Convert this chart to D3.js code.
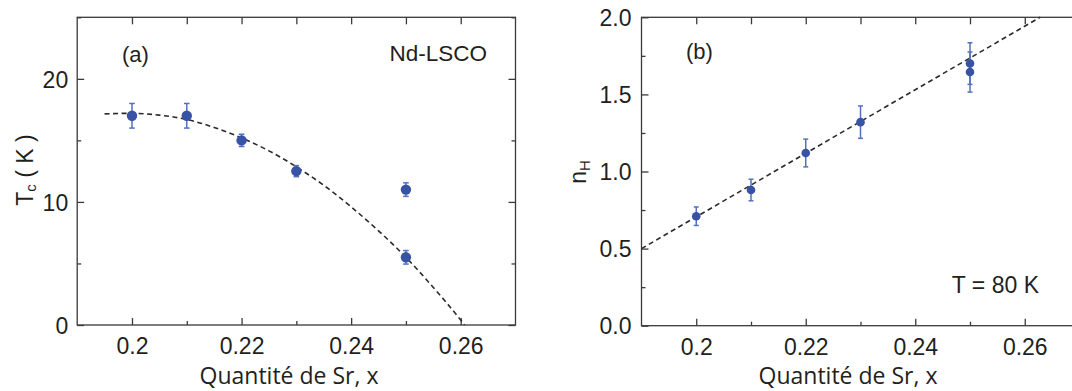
<!DOCTYPE html>
<html><head><meta charset="utf-8">
<script src="https://cdn.jsdelivr.net/npm/d3@7"></script>
<style>
body{margin:0;background:#fff;}
svg{display:block;}
text{font-family:"Liberation Sans",Arial,sans-serif;fill:#231f20;}
.title{font-family:"Open Sans","Noto Sans",sans-serif;}
</style></head><body>
<svg id="c" width="1072" height="391"></svg>
<script>
// ---- Data ----
// Panel (a): Tc vs Sr content
const xA = [0.20, 0.21, 0.22, 0.23, 0.25, 0.25];
const tcA = [17.0, 17.0, 15.0, 12.5, 11.0, 5.5];
const tcErrA = [1.0, 1.0, 0.5, 0.45, 0.55, 0.55];
// dashed guide curve (a)
const fitXA = [0.195, 0.200, 0.205, 0.210, 0.215, 0.220, 0.225, 0.230, 0.235, 0.240, 0.245, 0.250, 0.255, 0.260, 0.2607];
const fitYA = [17.15, 17.2, 17.05, 16.7, 16.05, 15.2, 14.15, 12.85, 11.35, 9.6, 7.65, 5.5, 3.05, 0.4, 0.0];
// Panel (b): nH vs Sr content
const xB = [0.20, 0.21, 0.22, 0.23, 0.25, 0.25];
const nB = [0.71, 0.88, 1.12, 1.32, 1.70, 1.645];
const nErrB = [0.06, 0.07, 0.09, 0.105, 0.135, 0.13];
// dashed linear fit (b)
const fitXB = [0.19, 0.2628];
const fitYB = [0.5, 2.0];
// Axis ticks
const xMajorTicks = [0.20, 0.22, 0.24, 0.26];
const xTickLabels = ["0.2", "0.22", "0.24", "0.26"];
const xMinorTicks = [0.21, 0.23, 0.25];
const yMajorA = [0, 10, 20];
const yMinorA = [5, 15, 25];
const yMajorB = [0, 0.5, 1.0, 1.5, 2.0];
const yMinorB = [0.25, 0.75, 1.25, 1.75];

const svg = d3.select("#c");
const axisCol = "#3a3a3a";
const ptCol = "#3852a4";
const errCol = "#5571bd";
const tickFont = 23;

function panel(o) {
  const x = d3.scaleLinear().domain([0.19, 0.27]).range(o.xr);
  const y = d3.scaleLinear().domain(o.yd).range(o.yr);
  const g = svg.append("g");
  const [x0, x1] = o.xr, [y0, y1] = o.yr;
  // frame
  g.append("rect").attr("x", x0).attr("y", y1).attr("width", x1 - x0).attr("height", y0 - y1)
    .attr("fill", "none").attr("stroke", axisCol).attr("stroke-width", 1.3);
  // bottom axis (ticks inward)
  const bx = g.append("g").attr("transform", `translate(0,${y0})`)
    .call(d3.axisBottom(x).tickValues(xMajorTicks).tickSize(-7)
      .tickFormat((d, i) => xTickLabels[i]).tickPadding(10));
  bx.select(".domain").remove();
  bx.selectAll("line").attr("stroke", axisCol).attr("stroke-width", 1.3);
  bx.selectAll("text").attr("font-size", tickFont).attr("fill", "#231f20")
    .style("font-family", '"Liberation Sans",Arial,sans-serif').attr("dy", "0.8em").attr("y", 10.5);
  const bm = g.append("g").attr("transform", `translate(0,${y0})`)
    .call(d3.axisBottom(x).tickValues(xMinorTicks).tickSize(-4).tickFormat(""));
  bm.select(".domain").remove();
  bm.selectAll("line").attr("stroke", axisCol).attr("stroke-width", 1.3);
  // top axis
  const tx = g.append("g").attr("transform", `translate(0,${y1})`)
    .call(d3.axisTop(x).tickValues(xMajorTicks.concat(xMinorTicks)).tickSize(-7).tickFormat(""));
  tx.select(".domain").remove();
  tx.selectAll("line").attr("stroke", axisCol).attr("stroke-width", 1.3);
  // left axis
  const ly = g.append("g").attr("transform", `translate(${x0},0)`)
    .call(d3.axisLeft(y).tickValues(o.yMajor).tickSize(-7).tickPadding(o.lpad).tickFormat(o.fmt));
  ly.select(".domain").remove();
  ly.selectAll("line").attr("stroke", axisCol).attr("stroke-width", 1.3);
  ly.selectAll("text").attr("font-size", tickFont).attr("fill", "#231f20")
    .style("font-family", '"Liberation Sans",Arial,sans-serif').attr("dy", "0.36em");
  const lm = g.append("g").attr("transform", `translate(${x0},0)`)
    .call(d3.axisLeft(y).tickValues(o.yMinor).tickSize(-4).tickFormat(""));
  lm.select(".domain").remove();
  lm.selectAll("line").attr("stroke", axisCol).attr("stroke-width", 1.3);
  // right axis
  const ry = g.append("g").attr("transform", `translate(${x1},0)`)
    .call(d3.axisRight(y).tickValues(o.yMajor).tickSize(-7).tickFormat(""));
  ry.select(".domain").remove();
  ry.selectAll("line").attr("stroke", axisCol).attr("stroke-width", 1.3);
  const rm = g.append("g").attr("transform", `translate(${x1},0)`)
    .call(d3.axisRight(y).tickValues(o.yMinor).tickSize(-4).tickFormat(""));
  rm.select(".domain").remove();
  rm.selectAll("line").attr("stroke", axisCol).attr("stroke-width", 1.3);

  // fit curve
  const fit = o.fitX.map((v, i) => [v, o.fitY[i]]);
  g.append("path").datum(fit)
    .attr("d", d3.line().x(d => x(d[0])).y(d => y(d[1])).curve(d3.curveMonotoneX))
    .attr("fill", "none").attr("stroke", "#2b2b2b").attr("stroke-width", 1.6)
    .attr("stroke-dasharray", "5,3.5");

  // error bars
  const pts = o.px.map((v, i) => ({x: v, y: o.py[i], e: o.pe[i]}));
  const eb = g.append("g").attr("stroke", errCol).attr("stroke-width", 1.5);
  pts.forEach(p => {
    const cx = x(p.x);
    eb.append("line").attr("x1", cx).attr("x2", cx).attr("y1", y(p.y - p.e)).attr("y2", y(p.y + p.e));
    eb.append("line").attr("x1", cx - o.cap).attr("x2", cx + o.cap).attr("y1", y(p.y - p.e)).attr("y2", y(p.y - p.e));
    eb.append("line").attr("x1", cx - o.cap).attr("x2", cx + o.cap).attr("y1", y(p.y + p.e)).attr("y2", y(p.y + p.e));
  });
  g.selectAll("circle.pt").data(pts).join("circle").attr("class", "pt")
    .attr("cx", d => x(d.x)).attr("cy", d => y(d.y)).attr("r", o.r).attr("fill", ptCol);

  // x title
  g.append("text").attr("class", "title").attr("x", o.xTitleX).attr("y", 384)
    .attr("text-anchor", "middle").attr("font-size", 23).text("Quantité de Sr, x");
  return {g, x, y};
}

// Panel (a)
const A = panel({xr: [77.2, 515.5], yr: [325, 17.3], yd: [0, 25], yMajor: yMajorA, yMinor: yMinorA, lpad: 9,
  fmt: d3.format("d"), fitX: fitXA, fitY: fitYA, px: xA, py: tcA, pe: tcErrA, r: 5.2, cap: 2.8, xTitleX: 289});
A.g.append("text").attr("x", 122).attr("y", 62).attr("font-size", 22).text("(a)");
A.g.append("text").attr("x", 487).attr("y", 61).attr("font-size", 22.5).attr("text-anchor", "end").text("Nd-LSCO");
const ta = A.g.append("text").attr("transform", "translate(33,170) rotate(-90)")
  .attr("text-anchor", "middle").attr("font-size", 23);
ta.append("tspan").text("T");
ta.append("tspan").attr("font-size", 15).attr("dy", 3).text("c");
ta.append("tspan").attr("dy", -3).text(" ( K )");

// Panel (b)
const B = panel({xr: [641.5, 1079.5], yr: [325.7, 17.3], yd: [0, 2], yMajor: yMajorB, yMinor: yMinorB, lpad: 10,
  fmt: d3.format(".1f"), fitX: fitXB, fitY: fitYB, px: xB, py: nB, pe: nErrB, r: 4.3, cap: 2.5, xTitleX: 848});
B.g.append("text").attr("x", 686).attr("y", 59).attr("font-size", 22).text("(b)");
B.g.append("text").attr("x", 1039).attr("y", 293).attr("font-size", 23).attr("text-anchor", "end").text("T = 80 K");
const tb = B.g.append("text").attr("transform", "translate(586,172) rotate(-90)")
  .attr("text-anchor", "middle").attr("font-size", 23);
tb.append("tspan").text("n");
tb.append("tspan").attr("font-size", 15).attr("dy", 4).text("H");
</script>
</body></html>
